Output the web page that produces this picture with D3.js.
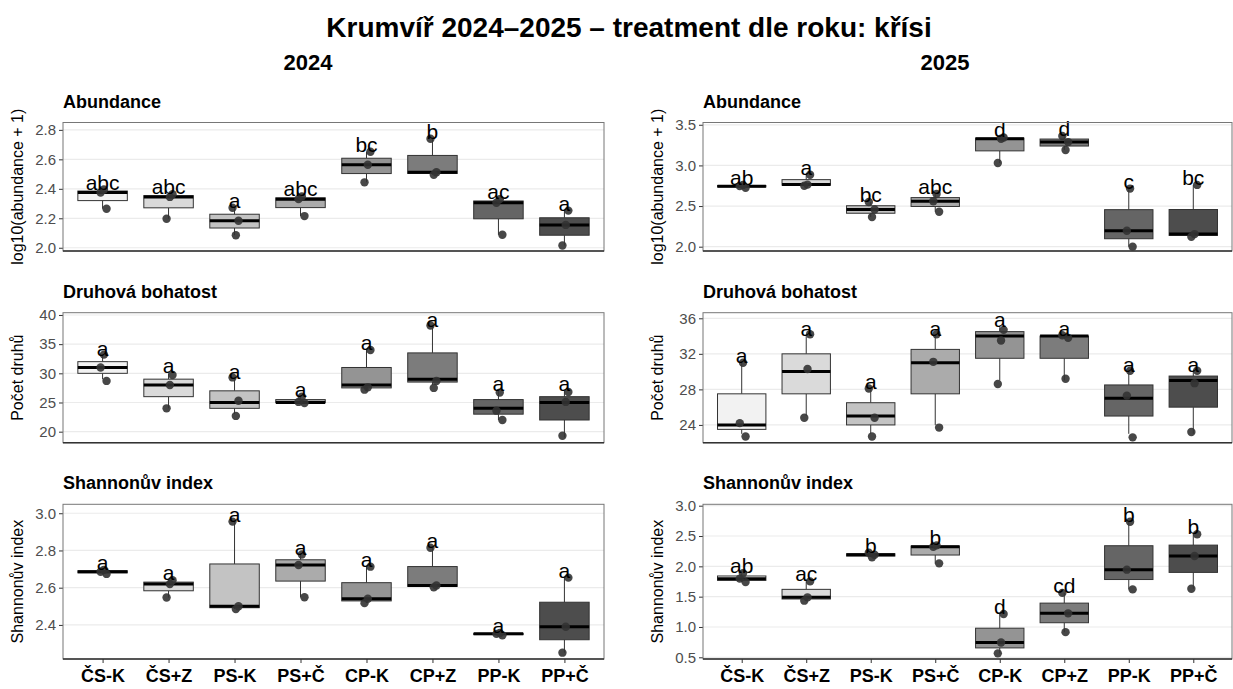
<!DOCTYPE html>
<html>
<head>
<meta charset="utf-8">
<script src="https://cdn.jsdelivr.net/npm/d3@7"></script>
<style>
  body { margin: 0; background: #fff; }
  text { font-family: "Liberation Sans", Arial, sans-serif; }
</style>
</head>
<body>
<script>
// skupiny (treatment)
const groups = ["ČS-K", "ČS+Z", "PS-K", "PS+Č", "CP-K", "CP+Z", "PP-K", "PP+Č"];

// 2024 – log10(abundance + 1), 3 plochy na skupinu
const abund2024 = [
  [2.265, 2.375, 2.395], [2.197, 2.345, 2.363], [2.085, 2.183, 2.272], [2.215, 2.33, 2.348],
  [2.444, 2.563, 2.652], [2.495, 2.513, 2.74], [2.088, 2.305, 2.33], [2.015, 2.155, 2.252]
];
const abundLetters2024 = ["abc", "abc", "a", "abc", "bc", "b", "ac", "a"];

// 2025 – log10(abundance + 1)
const abund2025 = [
  [2.725, 2.745, 2.76], [2.75, 2.764, 2.886], [2.365, 2.458, 2.55], [2.43, 2.56, 2.648],
  [3.03, 3.328, 3.344], [3.19, 3.287, 3.362], [2.0, 2.196, 2.715], [2.122, 2.155, 2.76]
];
const abundLetters2025 = ["ab", "a", "bc", "abc", "d", "d", "c", "bc"];

// 2024 – počet druhů (hodnoty) a body tak, jak jsou vykreslené (jitter)
const rich2024 = [
  [29, 31, 33], [24, 28, 30], [23, 25, 29], [25, 25, 26],
  [27, 28, 34], [28, 29, 38], [22, 24, 27], [19, 25, 27]
];
const richPts2024 = [
  [28.7, 31.0, 33.2], [24.0, 28.0, 29.7], [22.7, 25.3, 29.3], [24.9, 25.1, 26.0],
  [27.2, 27.6, 34.0], [27.5, 28.7, 38.2], [22.0, 23.6, 26.7], [19.3, 25.1, 26.8]
];
const richLetters2024 = ["a", "a", "a", "a", "a", "a", "a", "a"];

// 2025 – počet druhů
const rich2025 = [
  [23, 24, 31], [25, 30, 34], [23, 25, 28], [24, 31, 34],
  [29, 34, 35], [29, 34, 34], [23, 27, 30], [23, 29, 30]
];
const richPts2025 = [
  [22.7, 24.2, 31.0], [24.8, 30.3, 34.2], [22.7, 24.8, 28.1], [23.7, 31.1, 34.2],
  [28.6, 33.5, 34.7], [29.2, 33.8, 34.1], [22.6, 27.3, 30.1], [23.2, 28.7, 30.1]
];
const richLetters2025 = ["a", "a", "a", "a", "a", "a", "a", "a"];

// 2024 – Shannonův index
const shan2024 = [
  [2.674, 2.686, 2.696], [2.547, 2.62, 2.64], [2.485, 2.5, 2.955], [2.549, 2.722, 2.778],
  [2.517, 2.541, 2.713], [2.602, 2.612, 2.815], [2.344, 2.352, 2.357], [2.251, 2.39, 2.654]
];
const shanLetters2024 = ["a", "a", "a", "a", "a", "a", "a", "a"];

// 2025 – Shannonův index
const shan2025 = [
  [1.74, 1.797, 1.885], [1.434, 1.489, 1.752], [2.15, 2.19, 2.225], [2.049, 2.324, 2.346],
  [0.565, 0.745, 1.215], [0.915, 1.225, 1.562], [1.62, 1.945, 2.735], [1.63, 2.17, 2.53]
];
const shanLetters2025 = ["ab", "ac", "b", "b", "d", "cd", "b", "b"];

// osy
const abundTicks2024 = [2.0, 2.2, 2.4, 2.6, 2.8];
const abundTicks2025 = [2.0, 2.5, 3.0, 3.5];
const richTicks2024 = [20, 25, 30, 35, 40];
const richTicks2025 = [24, 28, 32, 36];
const shanTicks2024 = [2.4, 2.6, 2.8, 3.0];
const shanTicks2025 = [0.5, 1.0, 1.5, 2.0, 2.5, 3.0];

const W = 1233, H = 689;
const svg = d3.select("body").append("svg")
  .attr("width", W).attr("height", H)
  .attr("viewBox", [0, 0, W, H]);

// barvy výplně – šedá škála (světlá -> tmavá)
const fill = d3.scaleOrdinal()
  .domain(groups)
  .range(d3.range(8).map(i => d3.interpolateRgb("#f2f2f2", "#4d4d4d")(i / 7)));

const cols = [{ x0: 63, x1: 604 }, { x0: 703, x1: 1232 }];
const rows = [{ y0: 122.5, y1: 251 }, { y0: 312.7, y1: 442.7 }, { y0: 504.3, y1: 659 }];
const jit = [0.06, -0.03, 0.02];

const panels = [
  { r: 0, c: 0, title: "Abundance", ylab: "log10(abundance + 1)", vals: abund2024, pts: abund2024, letters: abundLetters2024, dom: [1.978, 2.85], ticks: abundTicks2024, fmt: d3.format(".1f") },
  { r: 0, c: 1, title: "Abundance", ylab: "log10(abundance + 1)", vals: abund2025, pts: abund2025, letters: abundLetters2025, dom: [1.947, 3.528], ticks: abundTicks2025, fmt: d3.format(".1f") },
  { r: 1, c: 0, title: "Druhová bohatost", ylab: "Počet druhů", vals: rich2024, pts: richPts2024, letters: richLetters2024, dom: [18.11, 40.39], ticks: richTicks2024, fmt: d3.format("d") },
  { r: 1, c: 1, title: "Druhová bohatost", ylab: "Počet druhů", vals: rich2025, pts: richPts2025, letters: richLetters2025, dom: [22.0, 36.63], ticks: richTicks2025, fmt: d3.format("d") },
  { r: 2, c: 0, title: "Shannonův index", ylab: "Shannonův index", vals: shan2024, pts: shan2024, letters: shanLetters2024, dom: [2.217, 3.048], ticks: shanTicks2024, fmt: d3.format(".1f") },
  { r: 2, c: 1, title: "Shannonův index", ylab: "Shannonův index", vals: shan2025, pts: shan2025, letters: shanLetters2025, dom: [0.472, 3.023], ticks: shanTicks2025, fmt: d3.format(".1f") }
];

// hlavní titulek a roky
svg.append("text").attr("x", 629).attr("y", 37)
  .attr("text-anchor", "middle").attr("font-size", 28).attr("font-weight", "bold")
  .text("Krumvíř 2024–2025 – treatment dle roku: křísi");
svg.append("text").attr("x", 308).attr("y", 70)
  .attr("text-anchor", "middle").attr("font-size", 22).attr("font-weight", "bold").text("2024");
svg.append("text").attr("x", 945).attr("y", 70)
  .attr("text-anchor", "middle").attr("font-size", 22).attr("font-weight", "bold").text("2025");

panels.forEach(p => {
  const { x0, x1 } = cols[p.c];
  const { y0, y1 } = rows[p.r];
  const g = svg.append("g");

  const x = d3.scalePoint().domain(groups).range([x0, x1]).padding(0.6);
  const y = d3.scaleLinear().domain(p.dom).range([y1, y0]);
  const bw = x.step() * 0.75;

  g.append("rect").attr("x", x0).attr("y", y0).attr("width", x1 - x0).attr("height", y1 - y0)
    .attr("fill", "#fff");

  // mřížka
  g.selectAll(".grid").data(p.ticks).enter().append("line")
    .attr("x1", x0).attr("x2", x1)
    .attr("y1", d => y(d)).attr("y2", d => y(d))
    .attr("stroke", "#ebebeb").attr("stroke-width", 1.2);

  // panel title
  g.append("text").attr("x", x0).attr("y", y0 - 15)
    .attr("font-size", 18).attr("font-weight", "bold").text(p.title);

  // y osa
  const ya = g.append("g").attr("transform", `translate(${x0},0)`)
    .call(d3.axisLeft(y).tickValues(p.ticks).tickFormat(p.fmt).tickSize(4).tickPadding(3));
  ya.select(".domain").remove();
  ya.selectAll("line").attr("stroke", "#333");
  ya.selectAll("text").attr("fill", "#4d4d4d").attr("font-size", 15)
    .style("font-family", '"Liberation Sans", Arial, sans-serif');

  g.append("text")
    .attr("transform", `translate(${x0 - 40},${(y0 + y1) / 2}) rotate(-90)`)
    .attr("text-anchor", "middle").attr("font-size", 16).text(p.ylab);

  // boxploty
  const stats = p.vals.map((v, i) => {
    const s = v.slice().sort(d3.ascending);
    return {
      g: groups[i],
      min: s[0], max: s[s.length - 1],
      q1: d3.quantile(s, 0.25), med: d3.quantile(s, 0.5), q3: d3.quantile(s, 0.75)
    };
  });

  const box = g.selectAll(".box").data(stats).enter().append("g");
  box.append("line")
    .attr("x1", d => x(d.g)).attr("x2", d => x(d.g))
    .attr("y1", d => y(d.max)).attr("y2", d => y(d.q3))
    .attr("stroke", "#333").attr("stroke-width", 1);
  box.append("line")
    .attr("x1", d => x(d.g)).attr("x2", d => x(d.g))
    .attr("y1", d => y(d.min)).attr("y2", d => y(d.q1))
    .attr("stroke", "#333").attr("stroke-width", 1);
  box.append("rect")
    .attr("x", d => x(d.g) - bw / 2).attr("width", bw)
    .attr("y", d => y(d.q3)).attr("height", d => Math.max(0.5, y(d.q1) - y(d.q3)))
    .attr("fill", d => fill(d.g)).attr("stroke", "#333").attr("stroke-width", 1);
  box.append("line")
    .attr("x1", d => x(d.g) - bw / 2).attr("x2", d => x(d.g) + bw / 2)
    .attr("y1", d => y(d.med)).attr("y2", d => y(d.med))
    .attr("stroke", "#000").attr("stroke-width", 3);

  // body
  const pts = [];
  p.pts.forEach((v, i) => v.forEach((val, k) => pts.push({ g: groups[i], v: val, k })));
  g.selectAll(".pt").data(pts).enter().append("circle")
    .attr("cx", d => x(d.g) + jit[(d.k + groups.indexOf(d.g)) % 3] * x.step())
    .attr("cy", d => y(d.v))
    .attr("r", 4.2)
    .attr("fill", "#333").attr("fill-opacity", 0.9);

  // písmena (post-hoc)
  g.selectAll(".lab").data(stats).enter().append("text")
    .attr("x", d => x(d.g)).attr("y", d => y(d.max))
    .attr("text-anchor", "middle").attr("font-size", 21).attr("fill", "#000")
    .text((d, i) => p.letters[i]);

  // rámeček
  g.append("rect").attr("x", x0).attr("y", y0).attr("width", x1 - x0).attr("height", y1 - y0)
    .attr("fill", "none").attr("stroke", "#777").attr("stroke-width", 1);
  g.append("line").attr("x1", x0).attr("x2", x1).attr("y1", y1).attr("y2", y1)
    .attr("stroke", "#333").attr("stroke-width", 1.5);

  // x osa jen ve spodní řadě
  if (p.r === 2) {
    const xa = g.append("g").attr("transform", `translate(0,${y1})`)
      .call(d3.axisBottom(x).tickSize(4).tickPadding(6));
    xa.select(".domain").remove();
    xa.selectAll("line").attr("stroke", "#333");
    xa.selectAll("text").attr("fill", "#000").attr("font-size", 18).attr("font-weight", "bold")
      .style("font-family", '"Liberation Sans", Arial, sans-serif');
  }
});
</script>
</body>
</html>
